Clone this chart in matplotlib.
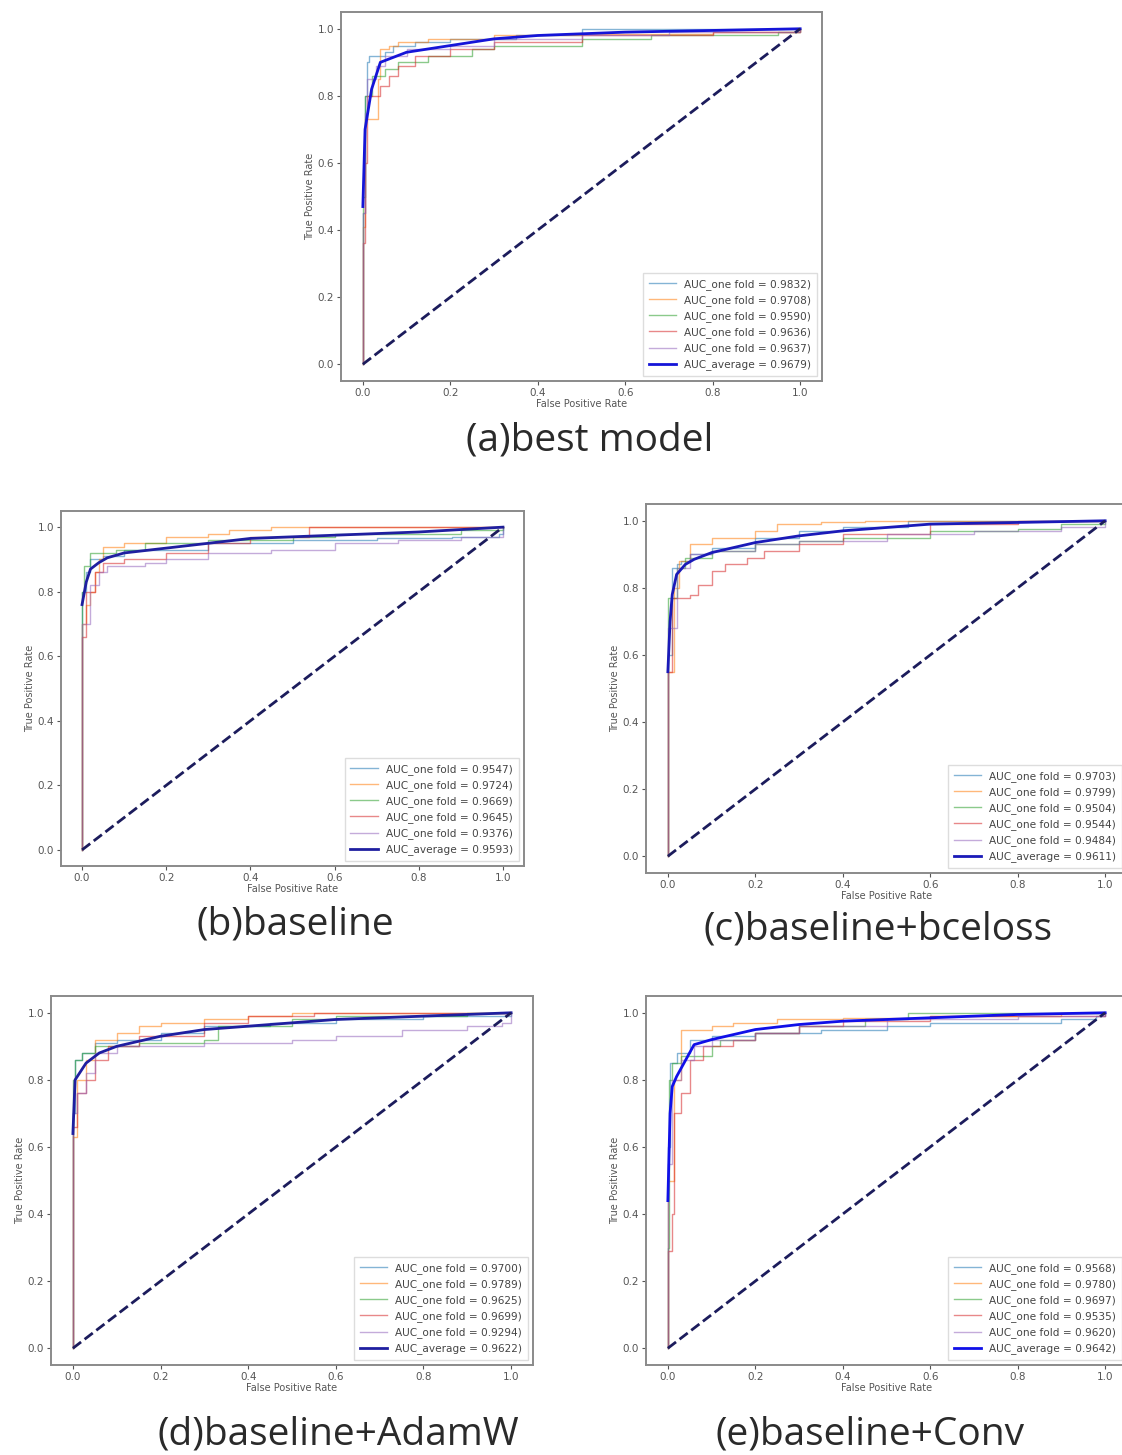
import matplotlib
matplotlib.use("Agg")
import matplotlib.pyplot as plt

# ROC curves of the 5 cross-validation folds per model, stored as
# (fpr, tpr) jump points: at each fpr the tpr rises to the listed value.

# (a) best model
a_auc = [0.9832, 0.9708, 0.9590, 0.9636, 0.9637]
a_avg_auc = 0.9679
a_fpr = [
    [0, 0, 0.005, 0.010, 0.015, 0.05, 0.07, 0.12, 0.20, 0.35, 0.50, 1.0],
    [0, 0, 0.005, 0.035, 0.040, 0.06, 0.08, 0.15, 0.30, 0.50, 0.80, 1.0],
    [0, 0, 0.005, 0.020, 0.050, 0.08, 0.15, 0.25, 0.30, 0.50, 0.66, 0.95, 1.0],
    [0, 0, 0.005, 0.010, 0.040, 0.06, 0.08, 0.12, 0.20, 0.30, 0.50, 0.80, 1.0],
    [0, 0, 0.005, 0.010, 0.030, 0.05, 0.10, 0.20, 0.30, 0.50, 0.70, 1.0],
]
a_tpr = [
    [0, 0.45, 0.80, 0.90, 0.92, 0.93, 0.95, 0.96, 0.97, 0.98, 1.0, 1.0],
    [0, 0.41, 0.73, 0.85, 0.94, 0.95, 0.96, 0.97, 0.98, 0.985, 0.99, 1.0],
    [0, 0.50, 0.80, 0.86, 0.88, 0.90, 0.92, 0.94, 0.95, 0.97, 0.98, 0.99, 1.0],
    [0, 0.36, 0.60, 0.80, 0.83, 0.86, 0.89, 0.92, 0.94, 0.96, 0.98, 0.99, 1.0],
    [0, 0.45, 0.75, 0.85, 0.89, 0.92, 0.94, 0.95, 0.97, 0.98, 0.99, 1.0],
]
a_avg_fpr = [0, 0.005, 0.02, 0.04, 0.1, 0.2, 0.3, 0.4, 0.6, 0.8, 1.0]
a_avg_tpr = [0.47, 0.70, 0.82, 0.90, 0.93, 0.95, 0.97, 0.98, 0.99, 0.995, 1.0]

# (b) baseline
b_auc = [0.9547, 0.9724, 0.9669, 0.9645, 0.9376]
b_avg_auc = 0.9593
b_fpr = [
    [0, 0, 0.01, 0.02, 0.05, 0.10, 0.30, 0.50, 0.70, 0.88, 0.99, 1.0],
    [0, 0, 0.01, 0.02, 0.03, 0.04, 0.05, 0.10, 0.20, 0.30, 0.35, 0.45, 1.0],
    [0, 0, 0.005, 0.02, 0.08, 0.15, 0.30, 0.50, 0.60, 0.90, 1.0],
    [0, 0, 0.01, 0.03, 0.05, 0.10, 0.20, 0.30, 0.40, 0.54, 1.0],
    [0, 0, 0.02, 0.04, 0.06, 0.15, 0.20, 0.30, 0.45, 0.60, 0.75, 0.90, 1.0, 1.0],
]
b_tpr = [
    [0, 0.80, 0.86, 0.90, 0.91, 0.93, 0.95, 0.96, 0.965, 0.97, 0.98, 1.0],
    [0, 0.70, 0.76, 0.80, 0.86, 0.90, 0.94, 0.95, 0.97, 0.98, 0.99, 1.0, 1.0],
    [0, 0.80, 0.88, 0.92, 0.93, 0.95, 0.96, 0.97, 0.98, 0.99, 1.0],
    [0, 0.66, 0.80, 0.86, 0.89, 0.90, 0.92, 0.95, 0.97, 1.0, 1.0],
    [0, 0.70, 0.82, 0.86, 0.88, 0.89, 0.90, 0.92, 0.93, 0.95, 0.96, 0.97, 0.98, 1.0],
]
b_avg_fpr = [0, 0.01, 0.02, 0.04, 0.06, 0.1, 0.2, 0.3, 0.4, 0.6, 0.8, 1.0]
b_avg_tpr = [0.76, 0.83, 0.87, 0.89, 0.905, 0.92, 0.935, 0.95, 0.965, 0.975, 0.985, 1.0]

# (c) baseline + bceloss
c_auc = [0.9703, 0.9799, 0.9504, 0.9544, 0.9484]
c_avg_auc = 0.9611
c_fpr = [
    [0, 0, 0.01, 0.02, 0.03, 0.05, 0.10, 0.20, 0.30, 0.40, 0.55, 1.0],
    [0, 0, 0.015, 0.025, 0.05, 0.10, 0.20, 0.25, 0.35, 0.45, 1.0],
    [0, 0, 0.02, 0.04, 0.10, 0.20, 0.30, 0.40, 0.60, 0.80, 0.90, 1.0],
    [0, 0, 0.01, 0.05, 0.07, 0.10, 0.13, 0.18, 0.22, 0.30, 0.40, 0.60, 0.80, 1.0],
    [0, 0, 0.02, 0.05, 0.10, 0.20, 0.30, 0.50, 0.70, 0.90, 1.0],
]
c_tpr = [
    [0, 0.60, 0.86, 0.87, 0.88, 0.90, 0.92, 0.95, 0.97, 0.98, 1.0, 1.0],
    [0, 0.55, 0.80, 0.88, 0.93, 0.95, 0.97, 0.99, 0.995, 1.0, 1.0],
    [0, 0.77, 0.86, 0.89, 0.91, 0.93, 0.94, 0.95, 0.97, 0.975, 0.99, 1.0],
    [0, 0.55, 0.77, 0.78, 0.81, 0.85, 0.87, 0.89, 0.91, 0.93, 0.96, 0.99, 1.0, 1.0],
    [0, 0.68, 0.86, 0.90, 0.91, 0.93, 0.94, 0.96, 0.97, 0.98, 1.0],
]
c_avg_fpr = [0, 0.005, 0.01, 0.02, 0.04, 0.06, 0.1, 0.15, 0.2, 0.3, 0.4, 0.5, 0.6, 0.8, 1.0]
c_avg_tpr = [0.55, 0.70, 0.78, 0.84, 0.87, 0.885, 0.905, 0.92, 0.935, 0.955, 0.97, 0.98, 0.99, 0.995, 1.0]

# (d) baseline + AdamW
d_auc = [0.9700, 0.9789, 0.9625, 0.9699, 0.9294]
d_avg_auc = 0.9622
d_fpr = [
    [0, 0, 0.005, 0.02, 0.05, 0.10, 0.20, 0.30, 0.45, 0.60, 0.80, 1.0],
    [0, 0, 0.01, 0.03, 0.05, 0.10, 0.15, 0.20, 0.30, 0.40, 0.50, 1.0],
    [0, 0, 0.005, 0.02, 0.05, 0.15, 0.30, 0.33, 0.50, 0.60, 0.90, 1.0],
    [0, 0, 0.01, 0.03, 0.05, 0.08, 0.15, 0.30, 0.40, 0.55, 1.0],
    [0, 0, 0.01, 0.03, 0.05, 0.10, 0.30, 0.50, 0.60, 0.75, 0.90, 0.98, 1.0],
]
d_tpr = [
    [0, 0.70, 0.86, 0.88, 0.91, 0.92, 0.94, 0.96, 0.97, 0.98, 0.99, 1.0],
    [0, 0.63, 0.80, 0.86, 0.92, 0.94, 0.96, 0.97, 0.98, 0.99, 1.0, 1.0],
    [0, 0.80, 0.86, 0.88, 0.90, 0.91, 0.92, 0.96, 0.98, 0.99, 1.0, 1.0],
    [0, 0.66, 0.76, 0.80, 0.86, 0.90, 0.93, 0.97, 0.99, 1.0, 1.0],
    [0, 0.70, 0.76, 0.82, 0.88, 0.90, 0.91, 0.92, 0.93, 0.95, 0.96, 0.97, 1.0],
]
d_avg_fpr = [0, 0.005, 0.03, 0.06, 0.1, 0.2, 0.3, 0.4, 0.5, 0.6, 0.8, 1.0]
d_avg_tpr = [0.64, 0.80, 0.85, 0.88, 0.90, 0.93, 0.95, 0.96, 0.97, 0.98, 0.99, 1.0]

# (e) baseline + Conv
e_auc = [0.9568, 0.9780, 0.9697, 0.9535, 0.9620]
e_avg_auc = 0.9642
e_fpr = [
    [0, 0, 0.005, 0.02, 0.05, 0.10, 0.20, 0.35, 0.50, 0.60, 0.90, 0.98, 1.0],
    [0, 0, 0.015, 0.03, 0.10, 0.15, 0.25, 0.40, 0.60, 0.90, 1.0],
    [0, 0, 0.003, 0.01, 0.03, 0.10, 0.12, 0.20, 0.30, 0.45, 0.55, 1.0],
    [0, 0, 0.01, 0.015, 0.03, 0.05, 0.08, 0.15, 0.20, 0.30, 0.40, 0.60, 1.0],
    [0, 0, 0.01, 0.03, 0.06, 0.10, 0.20, 0.30, 0.50, 0.80, 1.0],
]
e_tpr = [
    [0, 0.60, 0.85, 0.88, 0.92, 0.93, 0.94, 0.95, 0.96, 0.97, 0.98, 0.99, 1.0],
    [0, 0.50, 0.80, 0.95, 0.96, 0.97, 0.98, 0.985, 0.99, 1.0, 1.0],
    [0, 0.30, 0.80, 0.85, 0.87, 0.90, 0.92, 0.94, 0.96, 0.98, 1.0, 1.0],
    [0, 0.29, 0.40, 0.70, 0.76, 0.86, 0.90, 0.92, 0.94, 0.96, 0.975, 0.99, 1.0],
    [0, 0.55, 0.80, 0.86, 0.90, 0.92, 0.94, 0.96, 0.98, 0.99, 1.0],
]
e_avg_fpr = [0, 0.005, 0.01, 0.02, 0.06, 0.1, 0.15, 0.2, 0.3, 0.4, 0.6, 0.8, 1.0]
e_avg_tpr = [0.44, 0.70, 0.78, 0.81, 0.905, 0.92, 0.935, 0.95, 0.965, 0.975, 0.985, 0.995, 1.0]

captions = ["(a)best model", "(b)baseline", "(c)baseline+bceloss",
            "(d)baseline+AdamW", "(e)baseline+Conv"]

fold_colors = ["tab:blue", "tab:orange", "tab:green", "tab:red", "tab:purple"]

W, H = 1122, 1455
fig = plt.figure(figsize=(W / 100, H / 100), dpi=100)
fig.patch.set_facecolor("white")


def add_axes_px(left, top, right, bottom):
    return fig.add_axes([left / W, 1 - bottom / H, (right - left) / W, (bottom - top) / H])


def draw_roc(ax, fprs, tprs, aucs, avg_fpr, avg_tpr, avg_auc, avg_color):
    for fpr, tpr, auc, col in zip(fprs, tprs, aucs, fold_colors):
        ax.plot(fpr, tpr, drawstyle="steps-post", color=col, lw=1, alpha=0.55,
                label="AUC_one fold = %.4f)" % auc)
    ax.plot(avg_fpr, avg_tpr, color=avg_color, lw=2,
            label="AUC_average = %.4f)" % avg_auc)
    ax.plot([0, 1], [0, 1], color="#1c1c5c", lw=2, linestyle="--")
    ax.set_xlim(-0.05, 1.05)
    ax.set_ylim(-0.05, 1.05)
    ax.set_xticks([0, 0.2, 0.4, 0.6, 0.8, 1.0])
    ax.set_yticks([0, 0.2, 0.4, 0.6, 0.8, 1.0])
    ax.tick_params(labelsize=7.5, colors="#555555", length=3, width=0.8, pad=2)
    ax.set_xlabel("False Positive Rate", fontsize=7, color="#555555", labelpad=1)
    ax.set_ylabel("True Positive Rate", fontsize=7, color="#555555", labelpad=2)
    for sp in ax.spines.values():
        sp.set_color("#8a8a8a")
        sp.set_linewidth(1.4)
    leg = ax.legend(loc="lower right", fontsize=7.6, handlelength=2.6,
                    labelspacing=0.5, borderpad=0.5, fancybox=False,
                    framealpha=1, edgecolor="#dddddd")
    for t in leg.get_texts():
        t.set_color("#444444")


ax_a = add_axes_px(341, 12, 822, 381)
draw_roc(ax_a, a_fpr, a_tpr, a_auc, a_avg_fpr, a_avg_tpr, a_avg_auc, "#1515d8")

ax_b = add_axes_px(61, 511, 524, 866)
draw_roc(ax_b, b_fpr, b_tpr, b_auc, b_avg_fpr, b_avg_tpr, b_avg_auc, "#1f1fa0")

ax_c = add_axes_px(646, 504, 1127, 873)
draw_roc(ax_c, c_fpr, c_tpr, c_auc, c_avg_fpr, c_avg_tpr, c_avg_auc, "#1a1ab8")

ax_d = add_axes_px(51, 996, 533, 1365)
draw_roc(ax_d, d_fpr, d_tpr, d_auc, d_avg_fpr, d_avg_tpr, d_avg_auc, "#1f1fa0")

ax_e = add_axes_px(646, 996, 1127, 1365)
draw_roc(ax_e, e_fpr, e_tpr, e_auc, e_avg_fpr, e_avg_tpr, e_avg_auc, "#1010e8")

# sub-figure captions (pixel centres)
cap_pos = [(590, 440), (295, 924), (878, 930), (338, 1435), (870, 1435)]
for text, (cx, cy) in zip(captions, cap_pos):
    fig.text(cx / W, 1 - cy / H, text, ha="center", va="center",
             fontsize=28, family="Open Sans", color="#2a2a2a")

fig.savefig("out.png", dpi=100)
